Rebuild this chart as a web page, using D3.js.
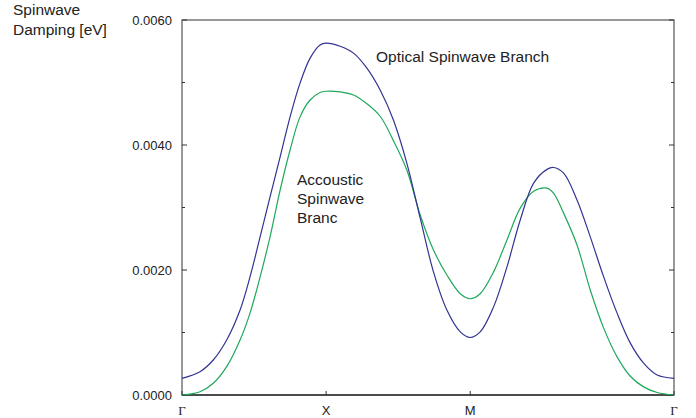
<!DOCTYPE html>
<html>
<head>
<meta charset="utf-8">
<script src="https://cdn.jsdelivr.net/npm/d3@7"></script>
<style>
    body { margin: 0; background: #fff; }
    svg { display: block; font-family: "Liberation Sans", Arial, sans-serif; }
</style>
</head>
<body>
<svg id="chart" width="696" height="418"></svg>
<script>
// k-path positions (Γ-X = 1, X-M = 1, M-Γ = 1.414)
const kPath = [0, 0.125, 0.217, 0.31, 0.403, 0.472, 0.542, 0.611, 0.681, 0.75,
    0.819, 0.889, 0.958, 1.0, 1.097, 1.19, 1.283, 1.375, 1.467, 1.56,
    1.653, 1.745, 1.838, 1.931, 2.0, 2.069, 2.162, 2.255, 2.347, 2.44,
    2.533, 2.578, 2.648, 2.741, 2.833, 2.926, 3.019, 3.111, 3.203, 3.297, 3.414];

// damping in eV
const optical = [0.000267, 0.000373, 0.00056, 0.00088, 0.00136, 0.00189, 0.00253, 0.00317, 0.00381, 0.00445,
    0.00499, 0.00539, 0.0056, 0.00563, 0.00558, 0.00547, 0.00523, 0.00488, 0.0044, 0.00371,
    0.00283, 0.00197, 0.00136, 0.00101, 0.00092, 0.00101, 0.00141, 0.00205, 0.0028, 0.00339,
    0.00361, 0.00364, 0.00355, 0.00312, 0.00253, 0.00189, 0.00131, 0.00083, 0.00051, 0.00032, 0.000267];

const acoustic = [0.0, 0.000053, 0.000187, 0.000453, 0.00088, 0.00131, 0.00189, 0.00253, 0.00328, 0.00392,
    0.00445, 0.00472, 0.00484, 0.00486, 0.00485, 0.0048, 0.00466, 0.00446, 0.00407, 0.0036,
    0.00288, 0.00232, 0.00192, 0.00162, 0.00154, 0.00162, 0.00197, 0.00248, 0.00299, 0.00326,
    0.00331, 0.00323, 0.00291, 0.0024, 0.00168, 0.00107, 0.00061, 0.0003, 0.00013, 0.00004, 0.0];

const kTicks = [0, 1, 2, 3.414];
const kLabels = ["Γ", "X", "M", "Γ"];
const yMajor = [0, 0.002, 0.004, 0.006];
const yMinor = [0, 0.001, 0.002, 0.003, 0.004, 0.005, 0.006];

const margin = { left: 182, right: 22, top: 20, bottom: 23 };
const width = 696, height = 418;

const svg = d3.select("#chart");

const x = d3.scaleLinear().domain([0, 3.414]).range([margin.left, width - margin.right]);
const y = d3.scaleLinear().domain([0, 0.006]).range([height - margin.bottom, margin.top]);

// frame
svg.append("rect")
    .attr("x", x(0))
    .attr("y", y(0.006))
    .attr("width", x(3.414) - x(0))
    .attr("height", y(0) - y(0.006))
    .attr("fill", "none")
    .attr("stroke", "#777")
    .attr("stroke-width", 1.5);

svg.append("line")
    .attr("x1", x(0)).attr("x2", x(3.414))
    .attr("y1", y(0)).attr("y2", y(0))
    .attr("stroke", "#333")
    .attr("stroke-width", 1.5);

// inward ticks on left and right
yMinor.forEach(v => {
    const len = yMajor.includes(v) ? 5 : 3;
    svg.append("line")
        .attr("x1", x(0)).attr("x2", x(0) + len)
        .attr("y1", y(v)).attr("y2", y(v))
        .attr("stroke", "#333");
    svg.append("line")
        .attr("x1", x(3.414)).attr("x2", x(3.414) - len)
        .attr("y1", y(v)).attr("y2", y(v))
        .attr("stroke", "#333");
});

svg.selectAll(".ylab")
    .data(yMajor)
    .join("text")
    .attr("class", "ylab")
    .attr("x", x(0) - 10)
    .attr("y", d => y(d) + 4.5)
    .attr("text-anchor", "end")
    .attr("font-size", 13)
    .attr("fill", "#222")
    .text(d => d3.format(".4f")(d));

// k-path ticks
kTicks.forEach(k => {
    svg.append("line")
        .attr("x1", x(k)).attr("x2", x(k))
        .attr("y1", y(0)).attr("y2", y(0) - 4)
        .attr("stroke", "#333");
});

svg.selectAll(".klab")
    .data(kTicks)
    .join("text")
    .attr("class", "klab")
    .attr("x", d => x(d))
    .attr("y", 415)
    .attr("text-anchor", "middle")
    .attr("font-size", 13)
    .attr("font-family", (d, i) => kLabels[i] === "Γ" ? "'Liberation Serif', serif" : null)
    .attr("fill", "#222")
    .text((d, i) => kLabels[i]);

// curves
const line = d3.line()
    .x((d, i) => x(kPath[i]))
    .y(d => y(d))
    .curve(d3.curveCatmullRom.alpha(0.5));

svg.append("path")
    .datum(acoustic)
    .attr("d", line)
    .attr("fill", "none")
    .attr("stroke", "#1fa85c")
    .attr("stroke-width", 1.2);

svg.append("path")
    .datum(optical)
    .attr("d", line)
    .attr("fill", "none")
    .attr("stroke", "#333393")
    .attr("stroke-width", 1.2);

// axis title
const yTitle = svg.append("text")
    .attr("x", 13)
    .attr("y", 15)
    .attr("font-size", 15.5)
    .attr("fill", "#222");
yTitle.append("tspan").attr("x", 13).text("Spinwave");
yTitle.append("tspan").attr("x", 13).attr("dy", 20).text("Damping [eV]");

// annotations
svg.append("text")
    .attr("x", 376)
    .attr("y", 62)
    .attr("font-size", 15.5)
    .attr("fill", "#222")
    .text("Optical Spinwave Branch");

const ac = svg.append("text")
    .attr("x", 297)
    .attr("y", 185)
    .attr("font-size", 15.5)
    .attr("fill", "#222");
["Accoustic", "Spinwave", "Branc"].forEach((t, i) => {
    ac.append("tspan").attr("x", 297).attr("dy", i === 0 ? 0 : 19).text(t);
});
</script>
</body>
</html>
